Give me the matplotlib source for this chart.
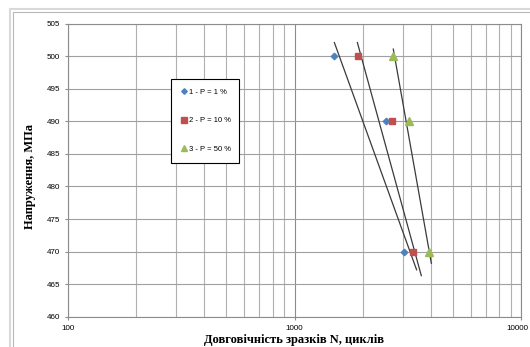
import matplotlib
matplotlib.use('Agg')
import matplotlib.pyplot as plt
import matplotlib.patches as patches
import matplotlib.transforms as mtransforms
from matplotlib.ticker import LogLocator, FixedLocator, NullFormatter

# напруження та довговічність для трьох рівнів імовірності руйнування
stress = [500, 490, 470]
n_p1 = [1500, 2540, 3030]
n_p10 = [1900, 2690, 3330]
n_p50 = [2730, 3210, 3910]

# лінії тренду (кінцеві точки)
trend_n_p1 = [1500, 3460]
trend_s_p1 = [502.1, 467.2]
trend_n_p10 = [1895, 3630]
trend_s_p10 = [502.1, 466.3]
trend_n_p50 = [2730, 4020]
trend_s_p50 = [501.1, 468.2]

labels = ['1 - P = 1 %', '2 - P = 10 %', '3 - P = 50 %']
y_ticks = [460, 465, 470, 475, 480, 485, 490, 495, 500, 505]
x_ticks = [100, 1000, 10000]

W, H = 530, 347
fig = plt.figure(figsize=(W / 100, H / 100), dpi=100)

# рамка області діаграми
fig.add_artist(patches.Rectangle((9.5 / W, -0.1), 1.2, 1 - 8.5 / H + 0.1,
                                 transform=fig.transFigure, fill=False,
                                 edgecolor='#d9d9d9', linewidth=1.5))
fig.add_artist(patches.Rectangle((13.3 / W, -0.1), 1.2, 1 - 12.3 / H + 0.1,
                                 transform=fig.transFigure, fill=False,
                                 edgecolor='#b8b8b8', linewidth=0.8))

ax = fig.add_axes([68 / W, 1 - 316.7 / H, (521 - 68) / W, (316.7 - 23.7) / H])
ax.set_xscale('log')
ax.set_xlim(100, 10000)
ax.set_ylim(460, 505)

grid_c = '#b0b0b0'
ax.xaxis.set_major_locator(FixedLocator(x_ticks))
ax.xaxis.set_minor_locator(LogLocator(base=10, subs=range(2, 10)))
ax.xaxis.set_minor_formatter(NullFormatter())
ax.set_xticklabels([str(v) for v in x_ticks])
ax.yaxis.set_major_locator(FixedLocator(y_ticks))
ax.set_yticklabels([str(v) for v in y_ticks])

ax.grid(which='major', color='#8c8c8c', linewidth=0.8)
ax.grid(which='minor', axis='x', color=grid_c, linewidth=0.8)
ax.grid(which='major', axis='y', color='#a0a0a0', linewidth=0.8)
ax.set_axisbelow(True)
for s in ax.spines.values():
    s.set_color('#8c8c8c')
    s.set_linewidth(0.8)
ax.tick_params(which='major', length=2.5, width=0.8, color='#8c8c8c',
               labelsize=5.8, pad=3.3)
ax.tick_params(which='minor', length=0)
for t in ax.get_xticklabels() + ax.get_yticklabels():
    t.set_family('Liberation Sans')

# крайню праву позначку трохи зсуваємо, щоб вона не виходила за край
last = ax.get_xticklabels()[-1]
last.set_transform(last.get_transform() +
                   mtransforms.ScaledTranslation(-4 / 100, 0, fig.dpi_scale_trans))

ax.plot(trend_n_p1, trend_s_p1, color='#3a3a3a', linewidth=0.9)
ax.plot(trend_n_p10, trend_s_p10, color='#3a3a3a', linewidth=0.9)
ax.plot(trend_n_p50, trend_s_p50, color='#3a3a3a', linewidth=0.9)

ax.plot(n_p1, stress, linestyle='none', marker='D', markersize=3.3,
        color='#4f81bd', label=labels[0])
ax.plot(n_p10, stress, linestyle='none', marker='s', markersize=5,
        color='#c0504d', label=labels[1])
ax.plot(n_p50, stress, linestyle='none', marker='^', markersize=5.5,
        color='#9bbb59', label=labels[2])

# легенда лише для маркерів
handles, labs = ax.get_legend_handles_labels()
leg = fig.legend(handles[-3:], labs[-3:], loc='upper left',
                 bbox_to_anchor=(171 / W, 1 - 82.3 / H, 68.5 / W, 0.01),
                 mode='expand', fancybox=False, framealpha=1, numpoints=1,
                 markerscale=0.85,
                 prop={'family': 'Liberation Sans', 'size': 5.5},
                 borderpad=1.3, labelspacing=2.75, handlelength=0.8,
                 handletextpad=0.3, borderaxespad=0)
leg.get_frame().set_edgecolor('black')
leg.get_frame().set_linewidth(0.8)

fig.text(30 / W, 1 - 177 / H, 'Напруження, МПа', rotation=90,
         ha='center', va='center', family='Liberation Serif',
         weight='bold', size=9)
fig.text(294.5 / W, 1 - 346 / H, 'Довговічність зразків N, циклів',
         ha='center', va='bottom', family='Liberation Serif',
         weight='bold', size=9)

fig.savefig('out.png', dpi=100)
